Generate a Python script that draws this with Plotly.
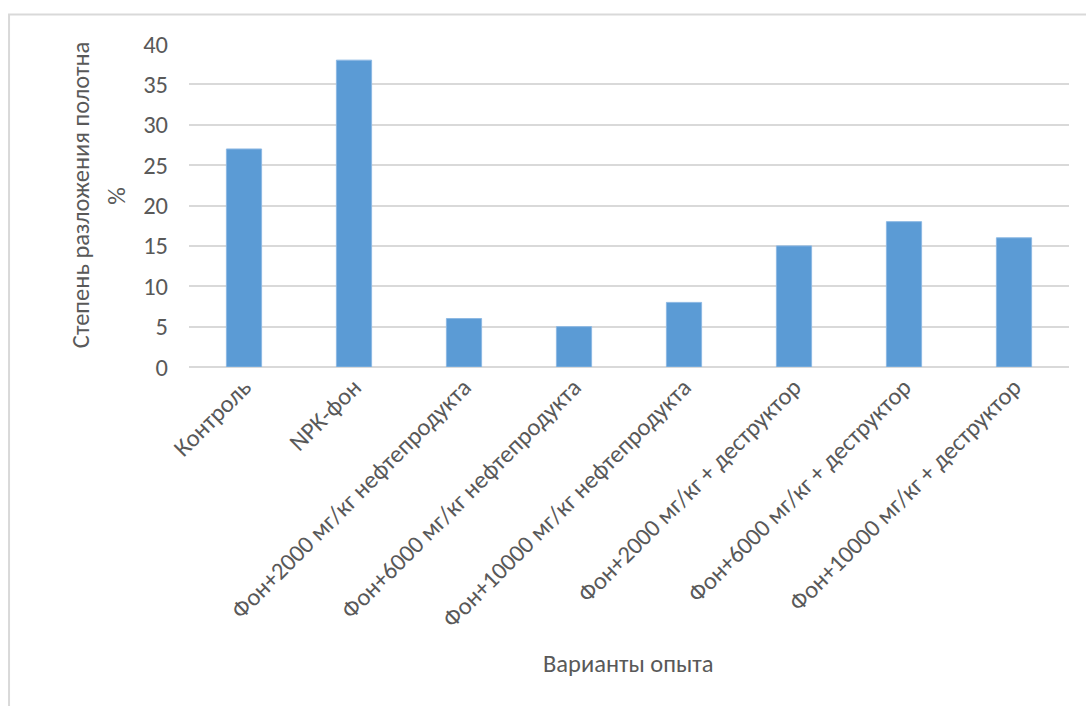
import plotly.graph_objects as go

# Варианты опыта и степень разложения полотна, %
categories = [
    "Контроль",
    "NPK-фон",
    "Фон+2000 мг/кг нефтепродукта",
    "Фон+6000 мг/кг нефтепродукта",
    "Фон+10000 мг/кг нефтепродукта",
    "Фон+2000 мг/кг + деструктор",
    "Фон+6000 мг/кг + деструктор",
    "Фон+10000 мг/кг + деструктор",
]
values = [27, 38, 6, 5, 8, 15, 18, 16]
y_ticks = [0, 5, 10, 15, 20, 25, 30, 35, 40]

FONT = "Calibri, Carlito, Lato, sans-serif"
TEXT = "#595959"
GRID = "#D9D9D9"
FS = 24.5

fig = go.Figure(
    go.Bar(
        x=categories,
        y=values,
        width=0.32,
        marker=dict(color="#5B9BD5", line=dict(color="#8CB8E3", width=1)),
        hoverinfo="x+y",
    )
)

fig.update_layout(
    width=1086,
    height=706,
    margin=dict(l=189, r=17, t=44, b=339),
    paper_bgcolor="white",
    plot_bgcolor="white",
    showlegend=False,
    font=dict(family=FONT, color=TEXT, size=FS),
    xaxis=dict(
        tickangle=-45,
        showgrid=False,
        showline=False,
        ticks="",
        tickfont=dict(size=FS, color=TEXT),
    ),
    yaxis=dict(
        range=[0, 40],
        tickvals=y_ticks,
        showgrid=True,
        gridcolor=GRID,
        gridwidth=2,
        zeroline=True,
        zerolinecolor=GRID,
        zerolinewidth=2,
        showline=False,
        ticks="",
        ticklabelstandoff=20,
        tickfont=dict(size=FS, color=TEXT),
    ),
    annotations=[
        dict(
            text="Степень разложения полотна",
            xref="paper", yref="paper",
            x=-0.1227, y=0.532,
            xanchor="center", yanchor="middle",
            textangle=-90, showarrow=False,
            font=dict(size=FS, color=TEXT),
        ),
        dict(
            text="%",
            xref="paper", yref="paper",
            x=-0.0818, y=0.53,
            xanchor="center", yanchor="middle",
            textangle=-90, showarrow=False,
            font=dict(size=FS, color=TEXT),
        ),
        dict(
            text="Варианты опыта",
            xref="paper", yref="paper",
            x=0.499, y=-0.921,
            xanchor="center", yanchor="middle",
            showarrow=False,
            font=dict(size=FS, color=TEXT),
        ),
    ],
    shapes=[
        dict(
            type="rect", xref="paper", yref="paper",
            x0=-0.2045, x1=1.2, y0=-1.3, y1=1.091,
            line=dict(color=GRID, width=2),
            fillcolor="rgba(0,0,0,0)",
            layer="below",
        )
    ],
)

fig.write_html("out.html")
